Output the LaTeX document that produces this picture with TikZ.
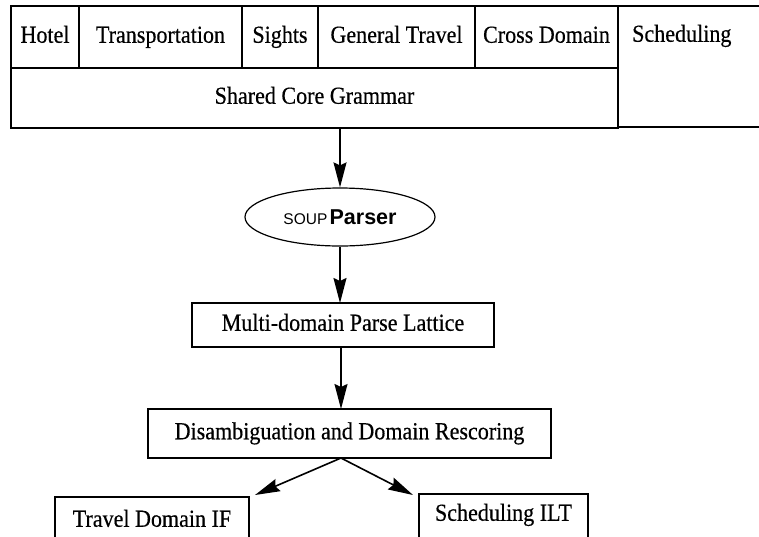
\documentclass[tikz,border=0pt]{standalone}
\usepackage{fontspec}
\setmainfont{Liberation Serif}[FakeStretch=0.9,FakeBold=0.4]
\newfontfamily\arialfont{Liberation Sans}
\usetikzlibrary{arrows.meta,shapes.geometric}
\begin{document}
\begin{tikzpicture}[x=1pt,y=-1pt,
  cell/.style={draw=black, line width=1.3pt, inner sep=0pt, outer sep=0pt,
    font=\fontsize{24.5}{28}\selectfont, text height=16.5pt, text depth=5pt},
  lbl/.style={inner sep=0pt, font=\fontsize{24.5}{28}\selectfont, text height=16.5pt, text depth=5pt},
  flow/.style={draw=black, line width=1.6pt, -{Stealth[length=25pt,width=13pt,inset=3pt]}}]
\useasboundingbox[fill=white] (0,0) rectangle (759,536);
% table
\node[cell, minimum width=68, minimum height=62] (hotel) at (45,37) {Hotel};
\node[cell, minimum width=163, minimum height=62] (transp) at (160.5,37) {Transportation};
\node[cell, minimum width=76, minimum height=62] (sights) at (280,37) {Sights};
\node[cell, minimum width=157, minimum height=62] (gentr) at (396.5,37) {General Travel};
\node[cell, minimum width=143, minimum height=62] (cross) at (546.5,37) {Cross Domain};
\node[cell, minimum width=607, minimum height=60] (core) at (314.5,98) {Shared Core Grammar};
\node[cell, anchor=north west, minimum width=160, minimum height=121] (sched) at (618,6) {};
\node[lbl, anchor=west] (schedtxt) at (632,36) {Scheduling};
% parser
\node[draw=black, line width=1.2pt, ellipse, minimum width=190, minimum height=58, inner sep=0pt]
  (soup) at (340,217) {{\arialfont\fontsize{15.5}{17}\selectfont SOUP} {\arialfont\bfseries\fontsize{21.5}{25}\selectfont Parser}};
\node[cell, minimum width=302, minimum height=44] (multi) at (343,325) {Multi-domain Parse Lattice};
\node[cell, minimum width=403, minimum height=49] (disamb) at (349.5,433.5) {Disambiguation and Domain Rescoring};
\node[cell, minimum width=194, minimum height=48] (travel) at (152,521) {Travel Domain IF};
\node[cell, minimum width=169, minimum height=52] (schilt) at (503.5,520) {\raisebox{5pt}{Scheduling ILT}};
% connectors
\coordinate (c1) at (340,128);
\draw[flow] (c1) -- (soup.north);
\draw[flow] (soup.south) -- (multi.north -| soup.south);
\draw[flow] (multi.south -| 341,0) -- (disamb.north -| 341,0);
\coordinate (d0) at (341,458);
\coordinate (t1) at (255,495);
\coordinate (t2) at (413,495);
\draw[flow] (d0) -- (t1);
\draw[flow] (d0) -- (t2);
\end{tikzpicture}
\end{document}
